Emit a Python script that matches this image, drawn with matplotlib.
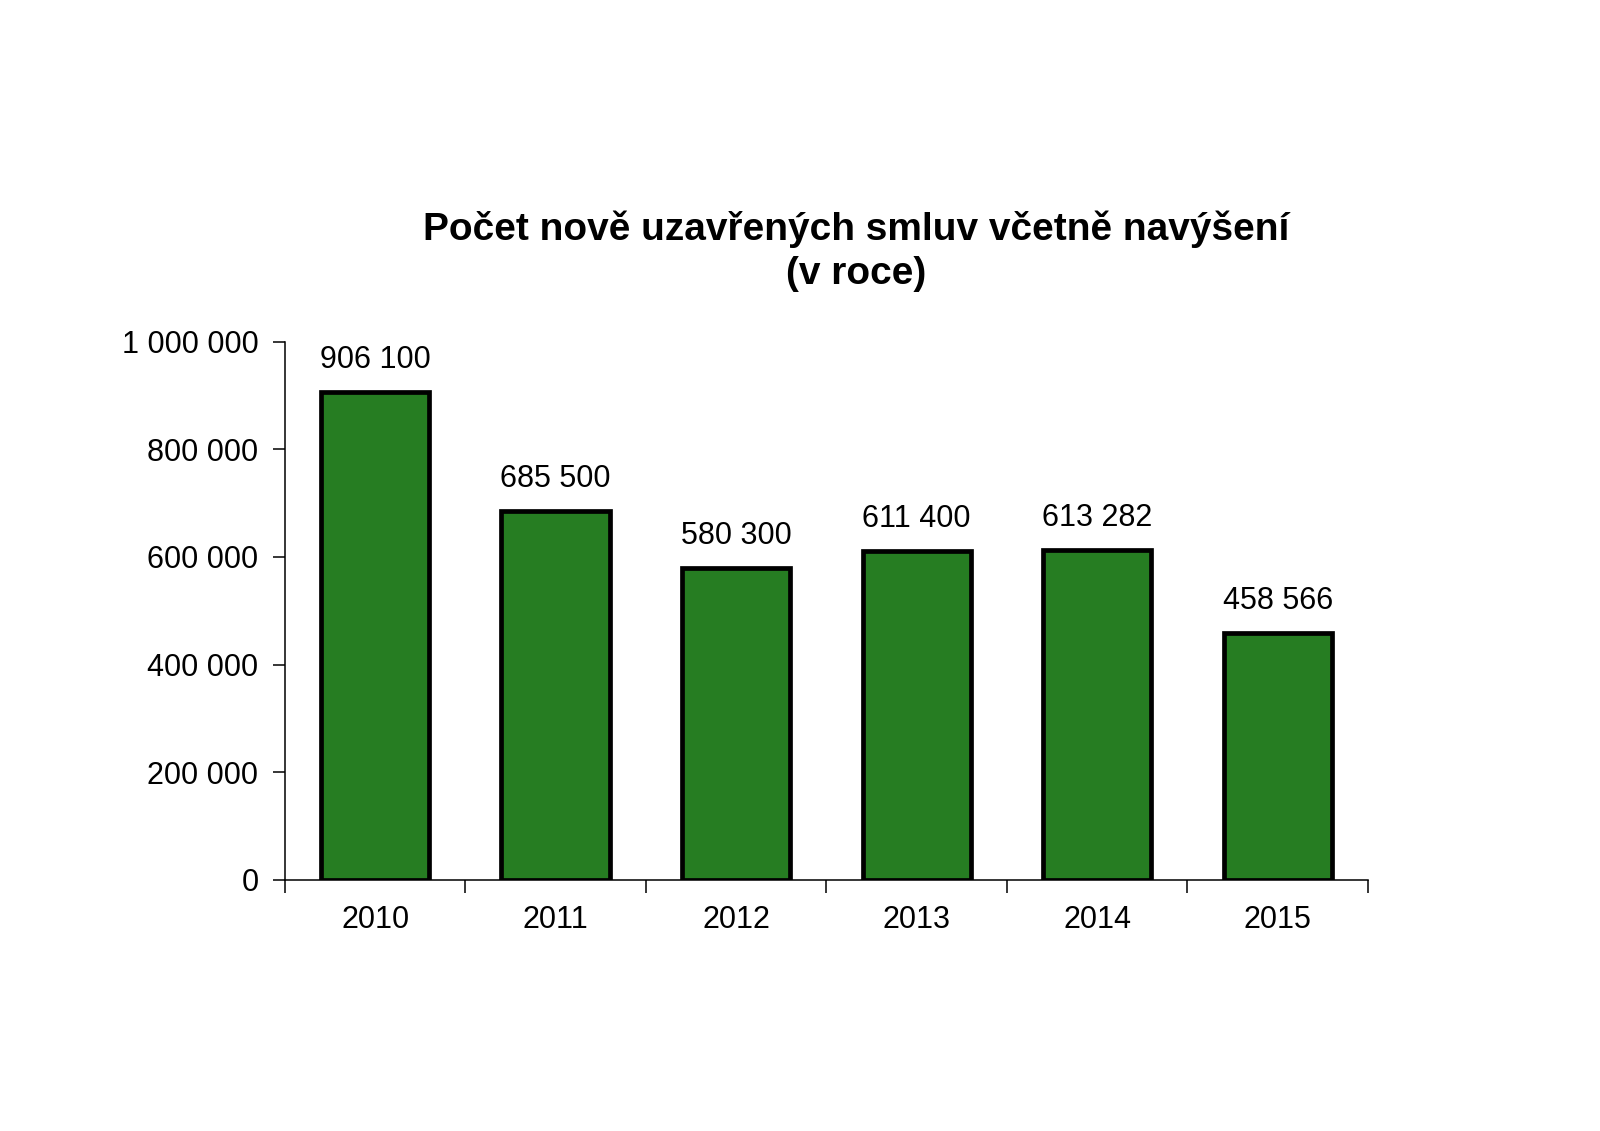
import matplotlib
matplotlib.use("Agg")
import matplotlib.pyplot as plt
from matplotlib.ticker import FuncFormatter, FixedLocator

plt.rcParams['font.family'] = ['Liberation Sans', 'DejaVu Sans']

# data
years = ["2010", "2011", "2012", "2013", "2014", "2015"]
contracts = [906100, 685500, 580300, 611400, 613282, 458566]


def fmt(v, pos=None):
    return f"{int(v):,}".replace(",", " ")


fig = plt.figure(figsize=(16, 11.31), dpi=100)
ax = fig.add_axes([0.178, 0.222, 0.677, 0.476])

x = range(len(years))
ax.bar(x, contracts, width=0.6, color="#267D22", edgecolor="black", linewidth=3.4, zorder=3)

for i, v in enumerate(contracts):
    ax.text(i, v + 31000, fmt(v), ha="center", va="bottom", fontsize=22)

ax.set_xlim(-0.5, len(years) - 0.5)
ax.set_ylim(0, 1000000)
ax.set_yticks(range(0, 1000001, 200000))
ax.yaxis.set_major_formatter(FuncFormatter(fmt))
ax.set_xticks(list(x))
ax.set_xticklabels(years)
ax.xaxis.set_minor_locator(FixedLocator([i - 0.5 for i in range(len(years) + 1)]))

ax.tick_params(axis="y", direction="out", length=9, width=1.1, labelsize=22, pad=10)
ax.tick_params(axis="x", which="major", length=0, labelsize=22, pad=18)
ax.tick_params(axis="x", which="minor", direction="out", length=9, width=1.1)

for s in ["top", "right"]:
    ax.spines[s].set_visible(False)
for s in ["left", "bottom"]:
    ax.spines[s].set_linewidth(1.1)

fig.text(0.535, 0.778, "Počet nově uzavřených smluv včetně navýšení\n(v roce)",
         ha="center", va="center", fontsize=28, fontweight="bold", linespacing=1.28)

fig.savefig("out.png", dpi=100, facecolor="white")
